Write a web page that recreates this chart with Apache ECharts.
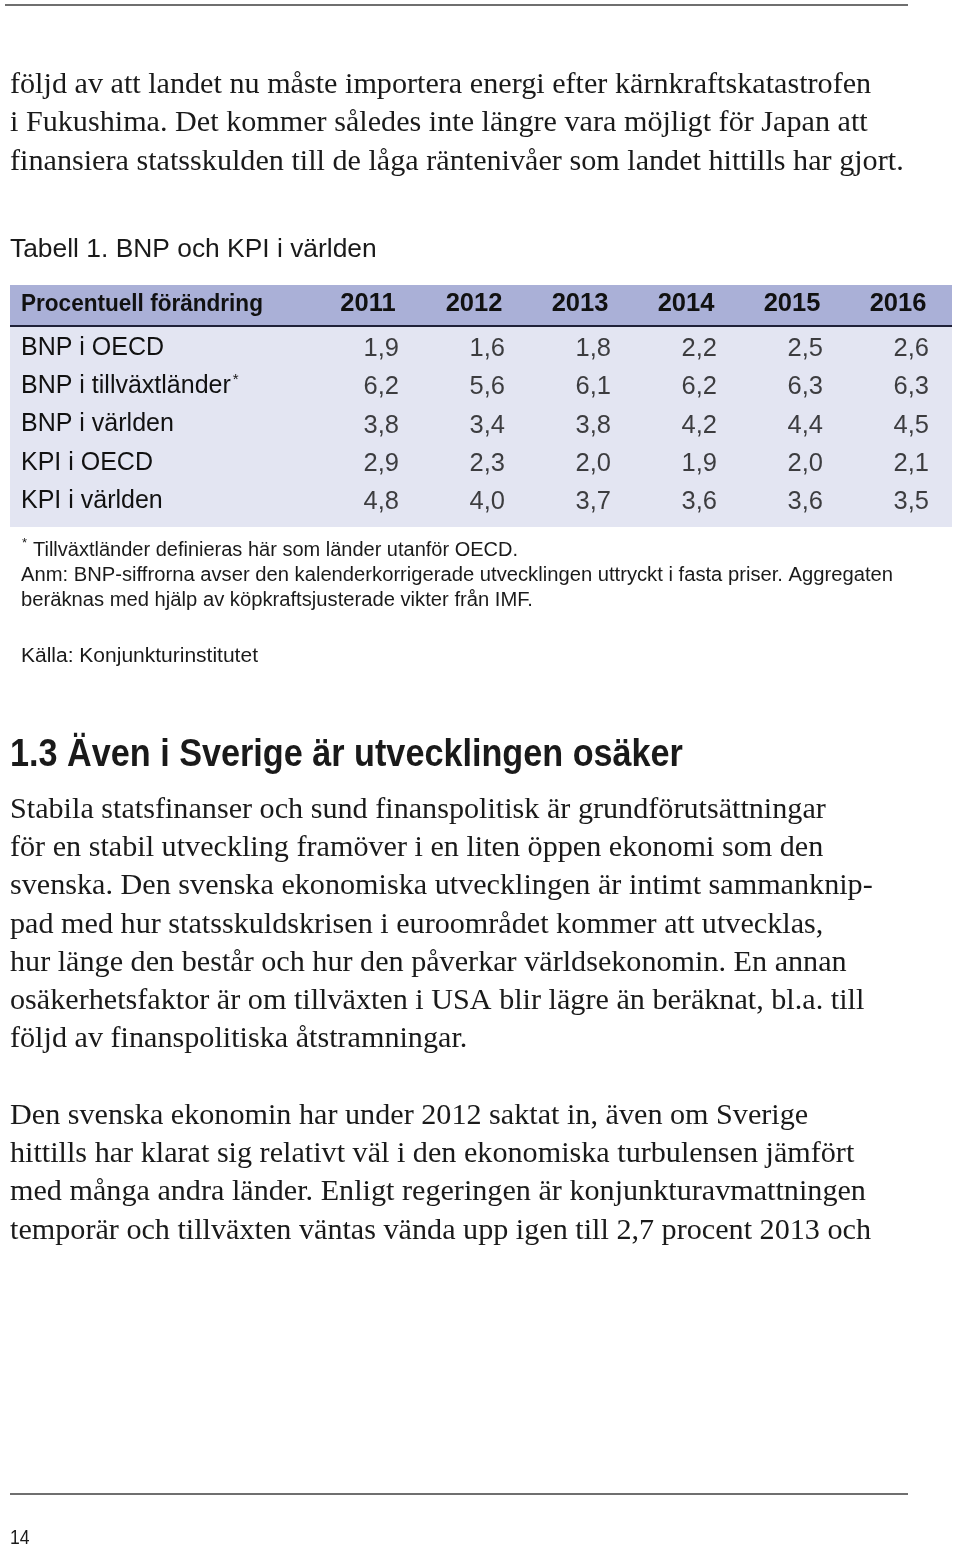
<!DOCTYPE html>
<html>
<head>
<meta charset="utf-8">
<script src="https://cdn.jsdelivr.net/npm/echarts@6/dist/echarts.min.js"></script>
<style>
html,body{margin:0;padding:0;background:#fff;}
#chart{width:960px;height:1546px;}
</style>
</head>
<body>
<div id="chart"></div>
<script>
// ---- data ----
const years = ['2011', '2012', '2013', '2014', '2015', '2016'];
const rowLabels = ['BNP i OECD', 'BNP i tillväxtländer', 'BNP i världen', 'KPI i OECD', 'KPI i världen'];
const bnpOecd = [1.9, 1.6, 1.8, 2.2, 2.5, 2.6];
const bnpTillvaxt = [6.2, 5.6, 6.1, 6.2, 6.3, 6.3];
const bnpVarlden = [3.8, 3.4, 3.8, 4.2, 4.4, 4.5];
const kpiOecd = [2.9, 2.3, 2.0, 1.9, 2.0, 2.1];
const kpiVarlden = [4.8, 4.0, 3.7, 3.6, 3.6, 3.5];
const rowValues = [bnpOecd, bnpTillvaxt, bnpVarlden, kpiOecd, kpiVarlden];
const headerLabel = 'Procentuell förändring';
const tableTitle = 'Tabell 1. BNP och KPI i världen';

const para1 = ['följd av att landet nu måste importera energi efter kärnkraftskatastrofen',
  'i Fukushima. Det kommer således inte längre vara möjligt för Japan att',
  'finansiera statsskulden till de låga räntenivåer som landet hittills har gjort.'];
const footnotes = ['Anm: BNP-siffrorna avser den kalenderkorrigerade utvecklingen uttryckt i fasta priser. Aggregaten',
  'beräknas med hjälp av köpkraftsjusterade vikter från IMF.'];
const footStar = 'Tillväxtländer definieras här som länder utanför OECD.';
const source = 'Källa: Konjunkturinstitutet';
const heading = '1.3 Även i Sverige är utvecklingen osäker';
const para2 = ['Stabila statsfinanser och sund finanspolitisk är grundförutsättningar',
  'för en stabil utveckling framöver i en liten öppen ekonomi som den',
  'svenska. Den svenska ekonomiska utvecklingen är intimt sammanknip-',
  'pad med hur statsskuldskrisen i euroområdet kommer att utvecklas,',
  'hur länge den består och hur den påverkar världsekonomin. En annan',
  'osäkerhetsfaktor är om tillväxten i USA blir lägre än beräknat, bl.a. till',
  'följd av finanspolitiska åtstramningar.'];
const para3 = ['Den svenska ekonomin har under 2012 saktat in, även om Sverige',
  'hittills har klarat sig relativt väl i den ekonomiska turbulensen jämfört',
  'med många andra länder. Enligt regeringen är konjunkturavmattningen',
  'temporär och tillväxten väntas vända upp igen till 2,7 procent 2013 och'];
const pageNo = '14';

// ---- build ----
const fmt = v => v.toFixed(1).replace('.', ',');
const cells = [];
rowValues.forEach((arr, r) => arr.forEach((v, c) => cells.push([years[c], rowLabels[r], v])));

const SERIF = '"Liberation Serif", "DejaVu Serif", serif';
const SANS = '"Liberation Sans", Arial, sans-serif';

const graphics = [];
function textEl(t, x, y, font, sx, fill) {
  graphics.push({
    type: 'text', x: x, y: y, scaleX: sx || 1, silent: true,
    style: { text: t, x: 0, y: 0, font: font, fill: fill || '#1a1a1a', textVerticalAlign: 'middle', verticalAlign: 'middle' }
  });
}
// rules
graphics.push({ type: 'line', shape: { x1: 5, y1: 5, x2: 908, y2: 5 }, style: { stroke: '#6f6f6f', lineWidth: 2 }, silent: true });
graphics.push({ type: 'line', shape: { x1: 10, y1: 1494, x2: 908, y2: 1494 }, style: { stroke: '#6f6f6f', lineWidth: 2 }, silent: true });
// table backgrounds
graphics.push({ type: 'rect', z: -10, shape: { x: 10, y: 285, width: 942, height: 242 }, style: { fill: '#e3e5f2' }, silent: true });
graphics.push({ type: 'rect', z: -9, shape: { x: 10, y: 285, width: 942, height: 41 }, style: { fill: '#aab0d7' }, silent: true });
graphics.push({ type: 'line', z: -8, shape: { x1: 10, y1: 326, x2: 952, y2: 326 }, style: { stroke: '#1f2138', lineWidth: 2 }, silent: true });

para1.forEach((t, i) => textEl(t, 10, 85 + i * 38.5, '29px ' + SERIF, 1.04));
textEl(tableTitle, 10, 250, '26.4px ' + SANS);
textEl(headerLabel, 21, 304, 'bold 24px ' + SANS, 0.94, '#111');
textEl('*', 22, 543, '13px ' + SANS);
textEl(footStar, 33, 550, '20px ' + SANS, 1.0);
footnotes.forEach((t, i) => textEl(t, 21, 575 + i * 25, '20px ' + SANS, 1.01));
textEl(source, 21, 656, '20px ' + SANS, 1.05);
textEl(heading, 10, 756, 'bold 38px ' + SANS, 0.9);
para2.forEach((t, i) => textEl(t, 10, 810 + i * 38.3, '29px ' + SERIF, 1.04));
para3.forEach((t, i) => textEl(t, 10, 1116 + i * 38.3, '29px ' + SERIF, 1.04));
textEl(pageNo, 10, 1538, '20px ' + SANS, 0.88);

const chart = echarts.init(document.getElementById('chart'), null, { renderer: 'canvas' });
chart.setOption({
  animation: false,
  backgroundColor: '#ffffff',
  grid: { left: 315, right: 9, top: 329, height: 191, containLabel: false },
  xAxis: {
    type: 'category', data: years, position: 'top',
    axisLine: { show: false }, axisTick: { show: false }, splitLine: { show: false },
    axisLabel: { margin: 12, fontFamily: SANS, fontWeight: 'bold', fontSize: 25.5, color: '#111' }
  },
  yAxis: {
    type: 'category', data: rowLabels, inverse: true,
    axisLine: { show: false }, axisTick: { show: false }, splitLine: { show: false },
    axisLabel: {
      margin: 294, align: 'left', fontFamily: SANS, fontSize: 25, color: '#111',
      formatter: v => v === 'BNP i tillväxtländer' ? v + '{sup|*}' : v,
      rich: { sup: { fontFamily: SANS, fontSize: 15, color: '#111', verticalAlign: 'top', padding: [0, 0, 12, 2] } }
    }
  },
  series: [{
    type: 'scatter', data: cells, symbolSize: 0, encode: { x: 0, y: 1 },
    label: {
      show: true, position: 'inside', align: 'right', verticalAlign: 'middle', offset: [31, 1],
      fontFamily: SANS, fontSize: 25.5, color: '#111',
      formatter: p => fmt(p.value[2])
    },
    silent: true
  }],
  graphic: graphics
});
</script>
</body>
</html>
